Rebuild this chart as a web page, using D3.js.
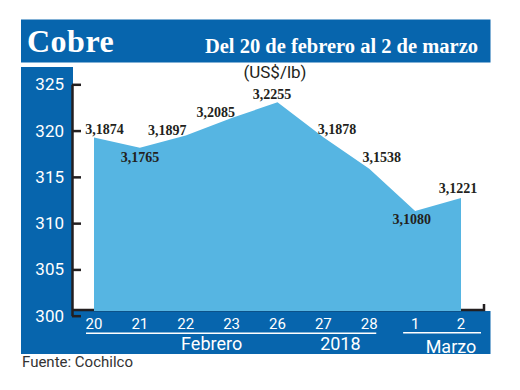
<!DOCTYPE html>
<html>
<head>
<meta charset="utf-8">
<script src="https://cdn.jsdelivr.net/npm/d3@7"></script>
<style>
  body { margin: 0; background: #fff; }
  svg { display: block; }
</style>
</head>
<body>
<div class="container"></div>
<script>
// daily copper price, US cents per lb
var days = ["20", "21", "22", "23", "26", "27", "28", "1", "2"];
var prices = [318.74, 317.65, 318.97, 320.85, 322.55, 318.78, 315.38, 310.80, 312.21];
var priceLabels = ["3,1874", "3,1765", "3,1897", "3,2085", "3,2255", "3,1878", "3,1538", "3,1080", "3,1221"];
var yTicks = [300, 305, 310, 315, 320, 325];
var febDays = ["20", "21", "22", "23", "26", "27", "28"];
var marDays = ["1", "2"];

var width = 520, height = 390;
var blue = "#0765ad", sky = "#56b5e2", ink = "#231f20";
var narrow = "'Liberation Sans Narrow', 'Arial Narrow', Roboto, sans-serif";
var serif = "'Liberation Serif', 'DejaVu Serif', serif";

var svg = d3.select("div.container").append("svg")
    .attr("width", width)
    .attr("height", height);

var x = d3.scalePoint().domain(days).range([94, 461]);
var y = d3.scaleLinear().domain([300, 325]).range([311, 79.6]);

// blue frame pieces
svg.append("rect").attr("x", 21).attr("y", 19.5).attr("width", 469.5).attr("height", 43).attr("fill", blue);
svg.append("rect").attr("x", 21).attr("y", 67).attr("width", 52).attr("height", 287).attr("fill", blue);
svg.append("rect").attr("x", 21).attr("y", 311).attr("width", 469.5).attr("height", 43).attr("fill", blue);

svg.append("text")
    .attr("x", 27).attr("y", 52)
    .attr("fill", "#fff")
    .style("font", "bold 32px " + serif)
    .style("letter-spacing", "0.5px")
    .text("Cobre");

svg.append("text")
    .attr("x", 478).attr("y", 52.5)
    .attr("text-anchor", "end")
    .attr("fill", "#fff")
    .style("font", "bold 20.5px " + serif)
    .text("Del 20 de febrero al 2 de marzo");

svg.append("text")
    .attr("x", 275).attr("y", 78)
    .attr("text-anchor", "middle")
    .attr("fill", ink)
    .style("font", "17px " + narrow)
    .text("(US$/lb)");

// x axis line with the little end tick
svg.append("path")
    .attr("d", "M72," + (y(300) - 1) + "H484V" + (y(300) - 7))
    .attr("fill", "none")
    .attr("stroke", ink)
    .attr("stroke-width", 2.5);

var area = d3.area()
    .x(function(d, i) { return x(days[i]); })
    .y0(y(300))
    .y1(function(d) { return y(d); });

svg.append("path")
    .datum(prices)
    .attr("d", area)
    .attr("fill", sky);

// y axis, ticks pointing into the plot
var yAxis = svg.append("g")
    .attr("transform", "translate(72,4.7)")
    .call(d3.axisLeft(y).tickValues(yTicks).tickSize(-9).tickSizeOuter(0).tickPadding(8));

yAxis.select(".domain").attr("stroke", ink).attr("stroke-width", 2.5);
yAxis.selectAll(".tick line").attr("stroke", ink).attr("stroke-width", 2.5);
yAxis.selectAll(".tick text")
    .attr("fill", "#fff")
    .style("font", "17px " + narrow);

// value labels
var labelOffsets = [[10.5, -4], [0, 14.5], [-18.5, -0.5], [-16, -1], [-5.5, -3], [13.5, -3.3], [12.5, -7], [-3.5, 13], [-3, -5]];

svg.append("g").selectAll("text")
    .data(prices)
    .enter()
    .append("text")
    .attr("x", function(d, i) { return x(days[i]) + labelOffsets[i][0]; })
    .attr("y", function(d, i) { return y(d) + labelOffsets[i][1]; })
    .attr("text-anchor", "middle")
    .attr("fill", ink)
    .style("font", "bold 14px " + serif)
    .text(function(d, i) { return priceLabels[i]; });

// day labels
svg.append("g").selectAll("text")
    .data(days)
    .enter()
    .append("text")
    .attr("x", function(d) { return x(d); })
    .attr("y", 329)
    .attr("text-anchor", "middle")
    .attr("fill", "#fff")
    .style("font", "15px " + narrow)
    .text(function(d) { return d; });

// month brackets
svg.append("line")
    .attr("x1", x(febDays[0]) - 8).attr("x2", x(febDays[febDays.length - 1]) + 7)
    .attr("y1", 333.3).attr("y2", 333.3)
    .attr("stroke", "#fff").attr("stroke-width", 1.5);

svg.append("line")
    .attr("x1", x(marDays[0]) - 12).attr("x2", x(marDays[marDays.length - 1]) + 20)
    .attr("y1", 332.7).attr("y2", 332.7)
    .attr("stroke", "#fff").attr("stroke-width", 1.5);

svg.append("text")
    .attr("x", x("23") - 20).attr("y", 350)
    .attr("text-anchor", "middle").attr("fill", "#fff")
    .style("font", "18px " + narrow)
    .text("Febrero");

svg.append("text")
    .attr("x", x("27") + 17).attr("y", 350)
    .attr("text-anchor", "middle").attr("fill", "#fff")
    .style("font", "18px " + narrow)
    .text("2018");

svg.append("text")
    .attr("x", x("2") - 10).attr("y", 352.5)
    .attr("text-anchor", "middle").attr("fill", "#fff")
    .style("font", "18px " + narrow)
    .text("Marzo");

svg.append("text")
    .attr("x", 22).attr("y", 367)
    .attr("fill", "#333")
    .style("font", "15px " + narrow)
    .text("Fuente: Cochilco");
</script>
</body>
</html>
